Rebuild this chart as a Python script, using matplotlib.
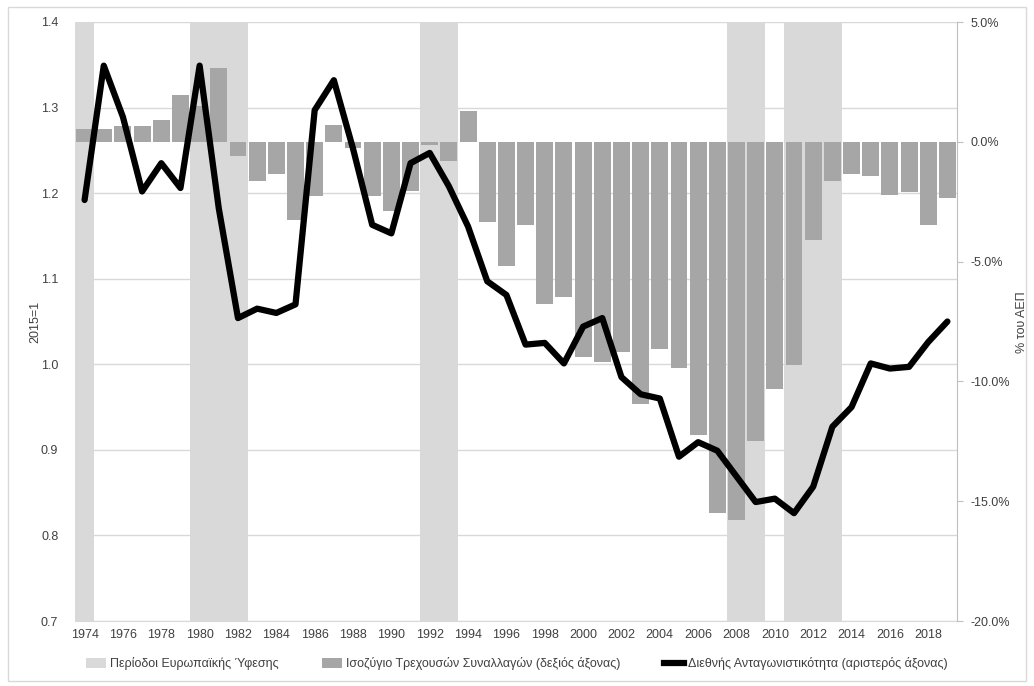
import numpy as np
import matplotlib
matplotlib.use("Agg")
import matplotlib.pyplot as plt
from matplotlib.patches import Patch, Rectangle
from matplotlib.lines import Line2D

plt.rcParams['font.family'] = ['Liberation Sans', 'DejaVu Sans']

# Data
years = list(range(1974, 2020))

# Current account balance, % of GDP (right axis)
current_account = [0.54, 0.54, 0.65, 0.65, 0.9, 1.96, 1.5, 3.07, -0.58, -1.65,
                   -1.33, -3.25, -2.25, 0.7, -0.27, -2.25, -2.9, -2.07, -0.15, -0.82,
                   1.29, -3.35, -5.2, -3.49, -6.75, -6.49, -8.99, -9.2, -8.77, -10.96,
                   -8.64, -9.46, -12.25, -15.5, -15.8, -12.5, -10.33, -9.3, -4.08, -1.65,
                   -1.33, -1.44, -2.23, -2.1, -3.49, -2.35]

# International competitiveness, 2015=1 (left axis)
competitiveness = [1.192, 1.349, 1.289, 1.202, 1.235, 1.206, 1.349, 1.182, 1.054, 1.065,
                   1.060, 1.070, 1.297, 1.332, 1.252, 1.163, 1.153, 1.235, 1.247, 1.208,
                   1.161, 1.097, 1.081, 1.023, 1.025, 1.001, 1.044, 1.054, 0.985, 0.965,
                   0.960, 0.892, 0.909, 0.899, 0.869, 0.839, 0.843, 0.826, 0.857, 0.927,
                   0.950, 1.001, 0.995, 0.997, 1.026, 1.050]

# European recession years
recession_years = [1974, 1980, 1981, 1982, 1992, 1993, 2008, 2009, 2011, 2012, 2013]

xtick_labels = [str(y) for y in range(1974, 2020, 2)]

label_recession = "Περίοδοι Ευρωπαϊκής Ύφεσης"
label_ca = "Ισοζύγιο Τρεχουσών Συναλλαγών (δεξιός άξονας)"
label_comp = "Διεθνής Ανταγωνιστικότητα (αριστερός άξονας)"

col_shade = "#d9d9d9"
col_bar = "#a6a6a6"
col_text = "#404040"

fig = plt.figure(figsize=(10.34, 6.86), dpi=100)
fig.patches.append(Rectangle((0.008, 0.008), 0.984, 0.982, transform=fig.transFigure,
                             fill=False, edgecolor="#d9d9d9", linewidth=1))

rect = [75 / 1034, 1 - 621 / 686, (957 - 75) / 1034, (621 - 22) / 686]

# left-scale axis: grid + recession shading
ax = fig.add_axes(rect)
ax.set_xlim(1973.5, 2019.5)
ax.set_ylim(0.7, 1.4)
ax.set_yticks(np.arange(0.7, 1.41, 0.1))
ax.set_yticklabels(["%.1f" % v for v in np.arange(0.7, 1.41, 0.1)])
ax.yaxis.grid(True, color="#d9d9d9", linewidth=1)
ax.set_axisbelow(True)
ax.bar(recession_years, [0.7] * len(recession_years), bottom=0.7, width=1.0,
       color=col_shade, zorder=2)
ax.set_xticks(list(range(1974, 2020, 2)))
ax.set_xticklabels(xtick_labels)
ax.tick_params(axis="both", length=0, labelsize=9, colors=col_text, pad=6)
ax.tick_params(axis="y", pad=12)
for s in ["top", "left", "right"]:
    ax.spines[s].set_visible(False)
ax.spines["bottom"].set_color("#d9d9d9")

# right-scale axis: current account bars
ax2 = ax.twinx()
ax2.bar(years, current_account, width=0.88, color=col_bar, zorder=3)
ax2.set_ylim(-20, 5)
ax2.set_yticks([-20, -15, -10, -5, 0, 5])
ax2.set_yticklabels(["%.1f%%" % v for v in [-20, -15, -10, -5, 0, 5]])
ax2.tick_params(axis="y", length=4, color="#bfbfbf", labelsize=9, labelcolor=col_text, pad=6)
for s in ["top", "left", "bottom"]:
    ax2.spines[s].set_visible(False)
ax2.spines["right"].set_color("#bfbfbf")

# axis titles
fig.text(35 / 1034, 1 - 322 / 686, "2015=1", rotation=90, ha="center", va="center",
         fontsize=9, color=col_text)
fig.text(1022 / 1034, 1 - 322 / 686, "% του ΑΕΠ", rotation=90, ha="center", va="center",
         fontsize=9, color=col_text)

# line on top, left scale
ax3 = ax.twinx()
ax3.set_ylim(0.7, 1.4)
ax3.plot(years, competitiveness, color="black", linewidth=4.5, solid_joinstyle="round",
         solid_capstyle="round")
ax3.set_yticks([])
ax3.axis("off")

handles = [Patch(facecolor=col_shade, edgecolor="none"),
           Patch(facecolor=col_bar, edgecolor="none"),
           Line2D([0], [0], color="black", linewidth=4.5)]
fig.legend(handles, [label_recession, label_ca, label_comp], loc="center",
           bbox_to_anchor=(0.5, 1 - 664 / 686), ncol=3, frameon=False, fontsize=9,
           labelcolor=col_text, handlelength=1.6, handleheight=0.9, handletextpad=0.3,
           columnspacing=3.5)

fig.savefig("out.png", dpi=100)
